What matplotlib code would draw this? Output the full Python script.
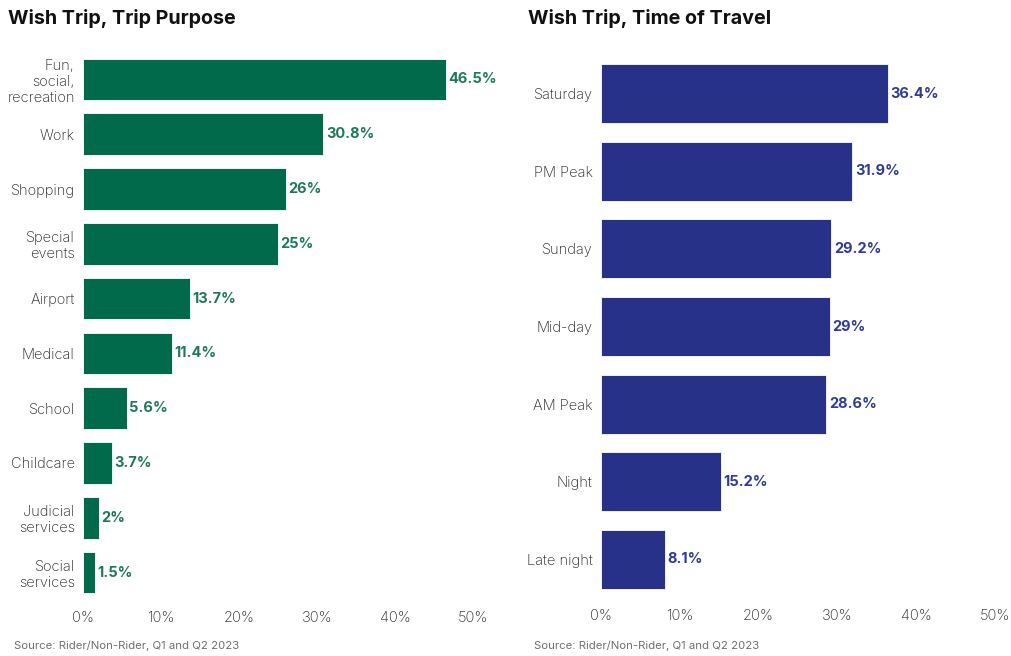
import matplotlib.pyplot as plt
from matplotlib.ticker import FuncFormatter

plt.rcParams['font.family'] = ['Inter', 'DejaVu Sans']

purpose_labels = ["Fun,\nsocial,\nrecreation", "Work", "Shopping", "Special\nevents",
                  "Airport", "Medical", "School", "Childcare",
                  "Judicial\nservices", "Social\nservices"]
purpose_vals = [46.5, 30.8, 26, 25, 13.7, 11.4, 5.6, 3.7, 2, 1.5]

time_labels = ["Saturday", "PM Peak", "Sunday", "Mid-day", "AM Peak", "Night", "Late night"]
time_vals = [36.4, 31.9, 29.2, 29, 28.6, 15.2, 8.1]

xticks = [0, 10, 20, 30, 40, 50]
source = "Source: Rider/Non-Rider, Q1 and Q2 2023"

W, H = 1011, 656
fig = plt.figure(figsize=(W / 100, H / 100), dpi=100)


def px_axes(left, top, right, bottom):
    return fig.add_axes([left / W, 1 - bottom / H, (right - left) / W, (bottom - top) / H])


def draw(ax, labels, vals, bar_color, text_color, height):
    y = list(range(len(vals)))
    ax.barh(y, vals, height=height, color=bar_color, edgecolor='white', linewidth=0.6)
    for yi, v in zip(y, vals):
        ax.text(v + 0.35, yi, f"{v:g}%", va='center', ha='left', fontsize=10.5,
                fontweight='bold', color=text_color)
    ax.set_yticks(y)
    ax.set_yticklabels(labels, fontsize=10.5, color='#222222', linespacing=1.2,
                       fontweight='light')
    ax.set_ylim(len(vals) - 0.5, -0.5)
    ax.set_xlim(0, 50)
    ax.set_xticks(xticks)
    ax.xaxis.set_major_formatter(FuncFormatter(lambda v, p: f"{v:g}%"))
    ax.tick_params(axis='x', length=0, pad=8, labelsize=10.5, labelcolor='#222222')
    for t in ax.get_xticklabels():
        t.set_fontweight('light')
    ax.tick_params(axis='y', length=0, pad=6)
    for s in ax.spines.values():
        s.set_visible(False)


ax1 = px_axes(83, 52, 473, 600)
draw(ax1, purpose_labels, purpose_vals, '#006A4A', '#1C7A56', 0.76)

ax2 = px_axes(601, 55, 995, 598)
draw(ax2, time_labels, time_vals, '#283188', '#2F3B98', 0.76)

fig.text(8 / W, 1 - 18 / H, "Wish Trip, Trip Purpose", fontsize=14.2, fontweight='bold',
         va='center', ha='left', color='#111111')
fig.text(528 / W, 1 - 18 / H, "Wish Trip, Time of Travel", fontsize=14.2, fontweight='bold',
         va='center', ha='left', color='#111111')
fig.text(14 / W, 1 - 646 / H, source, fontsize=8.2, color='#707070', va='center', ha='left')
fig.text(534 / W, 1 - 646 / H, source, fontsize=8.2, color='#707070', va='center', ha='left')

fig.savefig("out.png", dpi=100)
